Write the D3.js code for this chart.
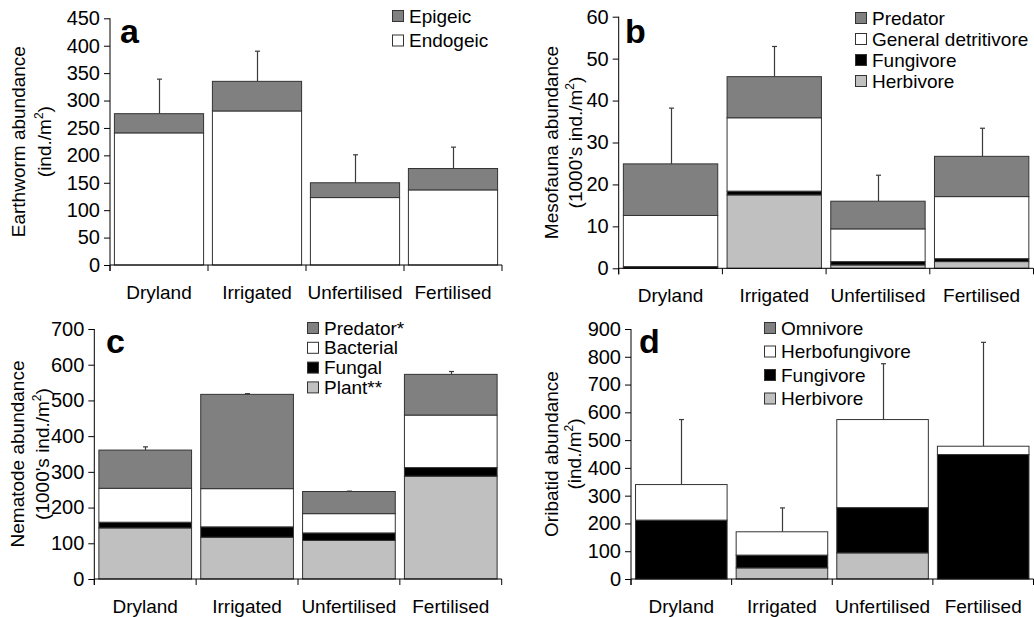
<!DOCTYPE html>
<html>
<head>
<meta charset="utf-8">
<script src="https://cdn.jsdelivr.net/npm/d3@7"></script>
<style>
  html, body { margin: 0; padding: 0; background: #fff; }
  svg { display: block; font-family: "Liberation Sans", Arial, sans-serif; }
</style>
</head>
<body>
<svg id="fig" width="1034" height="617"></svg>
<script>
// Treatments shared by all four panels
const categories = ["Dryland", "Irrigated", "Unfertilised", "Fertilised"];

// a: earthworms (ind./m2)
const earthEndogeic = [241, 281, 123, 137];
const earthEpigeic  = [35, 54, 27, 39];
const earthSE       = [63, 55, 51, 39];
const earthTicks    = [0, 50, 100, 150, 200, 250, 300, 350, 400, 450];

// b: mesofauna (1000's ind./m2)
const mesoHerbivore   = [0, 17.5, 0.8, 1.6];
const mesoFungivore   = [0.4, 0.9, 0.8, 0.7];
const mesoDetritivore = [12.2, 17.5, 7.8, 14.8];
const mesoPredator    = [12.3, 9.8, 6.6, 9.6];
const mesoSE          = [13.3, 7.2, 6.2, 6.7];
const mesoTicks       = [0, 10, 20, 30, 40, 50, 60];

// c: nematodes (1000's ind./m2)
const nemaPlant     = [143, 117, 108, 288];
const nemaFungal    = [16, 29, 21, 24];
const nemaBacterial = [95, 107, 54, 147];
const nemaPredator  = [107, 264, 62, 114];
const nemaSE        = [9, 2, 1, 8];
const nemaTicks     = [0, 100, 200, 300, 400, 500, 600, 700];

// d: oribatid mites (ind./m2)
const oribHerbivore      = [0, 40, 94, 0];
const oribFungivore      = [212, 46, 163, 448];
const oribHerbofungivore = [128, 84, 317, 30];
const oribOmnivore       = [0, 0, 0, 0];
const oribSE             = [234, 86, 201, 374];
const oribTicks          = [0, 100, 200, 300, 400, 500, 600, 700, 800, 900];

const DARK = "#808080", LIGHT = "#c0c0c0", WHITE = "#ffffff", BLACK = "#000000";

// Panel definitions: series listed bottom-to-top in the stack
const panels = [
  {
    letter: "a", x0: 110, x1: 502, yTop: 18.3, yBot: 265,
    ticks: earthTicks, se: earthSE,
    title: ["Earthworm abundance", "(ind./m", ")"], titleX: [18, 44],
    series: [
      { name: "Endogeic", values: earthEndogeic, fill: WHITE },
      { name: "Epigeic",  values: earthEpigeic,  fill: DARK }
    ],
    letterPos: [120, 43], legend: { x: 392, y: 10, step: 24.5 }
  },
  {
    letter: "b", x0: 618.7, x1: 1033.5, yTop: 16.7, yBot: 268.3,
    ticks: mesoTicks, se: mesoSE,
    title: ["Mesofauna abundance", "(1000's ind./m", ")"], titleX: [551, 575],
    series: [
      { name: "Herbivore",           values: mesoHerbivore,   fill: LIGHT },
      { name: "Fungivore",           values: mesoFungivore,   fill: BLACK },
      { name: "General detritivore", values: mesoDetritivore, fill: WHITE },
      { name: "Predator",            values: mesoPredator,    fill: DARK }
    ],
    letterPos: [625, 43], legend: { x: 855, y: 12, step: 21 }
  },
  {
    letter: "c", x0: 94.3, x1: 501.7, yTop: 329, yBot: 579,
    ticks: nemaTicks, se: nemaSE,
    title: ["Nematode abundance", "(1000's ind./m", ")"], titleX: [17, 42],
    series: [
      { name: "Plant**",    values: nemaPlant,     fill: LIGHT },
      { name: "Fungal",     values: nemaFungal,    fill: BLACK },
      { name: "Bacterial",  values: nemaBacterial, fill: WHITE },
      { name: "Predator*",  values: nemaPredator,  fill: DARK }
    ],
    letterPos: [106, 353], legend: { x: 307, y: 322, step: 19.8 }
  },
  {
    letter: "d", x0: 631, x1: 1033.5, yTop: 329, yBot: 579,
    ticks: oribTicks, se: oribSE,
    title: ["Oribatid abundance", "(ind./m", ")"], titleX: [551, 574],
    series: [
      { name: "Herbivore",      values: oribHerbivore,      fill: LIGHT },
      { name: "Fungivore",      values: oribFungivore,      fill: BLACK },
      { name: "Herbofungivore", values: oribHerbofungivore, fill: WHITE },
      { name: "Omnivore",       values: oribOmnivore,       fill: DARK }
    ],
    letterPos: [639, 353], legend: { x: 764, y: 322, step: 23.5 }
  }
];

const svg = d3.select("#fig");
const FS = 19;
const TICK_FS = 20;

panels.forEach(p => {
  const g = svg.append("g");
  const yMax = p.ticks[p.ticks.length - 1];

  const x = d3.scaleBand().domain(categories).range([p.x0, p.x1]).paddingInner(0.09).paddingOuter(0.045);
  const y = d3.scaleLinear().domain([0, yMax]).range([p.yBot, p.yTop]);

  // stacked layers
  const rows = categories.map((c, i) => {
    const r = { cat: c };
    p.series.forEach(s => { r[s.name] = s.values[i]; });
    return r;
  });
  const stack = d3.stack().keys(p.series.map(s => s.name))(rows);

  // error bars (upper arm only) drawn behind the bars
  const totals = rows.map(r => d3.sum(p.series, s => r[s.name]));
  const eb = g.append("g").attr("stroke", "#3a3a3a").attr("stroke-width", 1.2);
  categories.forEach((c, i) => {
    const cx = Math.round(x(c) + x.bandwidth() / 2) + 0.5;
    const top = y(totals[i] + p.se[i]);
    eb.append("line").attr("x1", cx).attr("x2", cx).attr("y1", y(totals[i])).attr("y2", top);
    eb.append("line").attr("x1", cx - 2.5).attr("x2", cx + 2.5).attr("y1", top).attr("y2", top);
  });

  stack.forEach((layer, li) => {
    const s = p.series[li];
    g.append("g").selectAll("rect").data(layer).join("rect")
      .attr("x", d => x(d.data.cat))
      .attr("width", x.bandwidth())
      .attr("y", d => y(d[1]))
      .attr("height", d => Math.max(0, y(d[0]) - y(d[1])))
      .attr("fill", s.fill)
      .attr("stroke", d => (d[1] - d[0]) > 0 ? "#333" : "none")
      .attr("stroke-width", 1);
  });

  // y axis
  const yAxis = d3.axisLeft(y).tickValues(p.ticks).tickSize(6).tickPadding(4).tickFormat(d3.format("d"));
  const ya = g.append("g").attr("transform", `translate(${p.x0},0)`).call(yAxis);
  ya.select(".domain").attr("d", `M0,${p.yTop}V${p.yBot + 6}`).attr("stroke", "#000");
  ya.selectAll(".tick line").attr("stroke", "#000");
  ya.selectAll(".tick text").attr("font-size", TICK_FS).attr("fill", "#000")
    .attr("font-family", "Liberation Sans, Arial, sans-serif");

  // x axis: ticks at category boundaries, labels centred under bars
  const xa = g.append("g");
  xa.append("line").attr("x1", p.x0).attr("x2", p.x1).attr("y1", p.yBot).attr("y2", p.yBot).attr("stroke", "#000");
  d3.range(categories.length + 1).forEach(k => {
    const tx = p.x0 + k * (p.x1 - p.x0) / categories.length;
    xa.append("line").attr("x1", tx).attr("x2", tx).attr("y1", p.yBot).attr("y2", p.yBot + 6).attr("stroke", "#000");
  });
  xa.selectAll("text.cat").data(categories).join("text")
    .attr("class", "cat")
    .attr("x", d => x(d) + x.bandwidth() / 2)
    .attr("y", p.yBot + 34)
    .attr("text-anchor", "middle")
    .attr("font-size", FS)
    .text(d => d);

  // y axis title (two lines, rotated)
  const cy = (p.yTop + p.yBot) / 2;
  g.append("text")
    .attr("transform", `translate(${p.titleX[0] + 7},${cy}) rotate(-90)`)
    .attr("text-anchor", "middle").attr("font-size", FS)
    .text(p.title[0]);
  const t2 = g.append("text")
    .attr("transform", `translate(${p.titleX[1] + 7},${cy}) rotate(-90)`)
    .attr("text-anchor", "middle").attr("font-size", FS);
  t2.append("tspan").text(p.title[1]);
  t2.append("tspan").attr("dy", -8).attr("font-size", 12).text("2");
  t2.append("tspan").attr("dy", 8).text(p.title[2]);

  // panel letter
  g.append("text").attr("x", p.letterPos[0]).attr("y", p.letterPos[1])
    .attr("font-size", 34).attr("font-weight", "bold").text(p.letter);

  // legend, top of stack first
  const leg = g.append("g");
  p.series.slice().reverse().forEach((s, i) => {
    const ly = p.legend.y + i * p.legend.step;
    leg.append("rect").attr("x", p.legend.x + 0.5).attr("y", ly + 0.5).attr("width", 11).attr("height", 11)
      .attr("fill", s.fill).attr("stroke", "#333").attr("stroke-width", 1);
    leg.append("text").attr("x", p.legend.x + 17).attr("y", ly + 12.5)
      .attr("font-size", FS).text(s.name);
  });
});
</script>
</body>
</html>
